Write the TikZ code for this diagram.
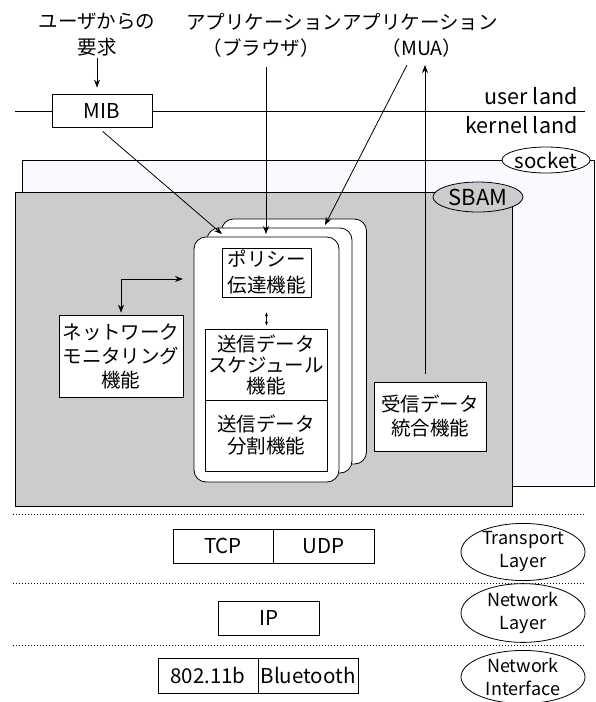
\documentclass[tikz,border=0pt]{standalone}
\usepackage{fontspec}
\setmainfont{Noto Sans CJK JP}
\usetikzlibrary{arrows.meta,shapes.geometric,calc}
\definecolor{sockfill}{RGB}{248,250,255}
\definecolor{sbamgray}{RGB}{204,204,204}
\begin{document}
\begin{tikzpicture}[x=1pt,y=-1pt,
  line width=0.8pt,
  every node/.style={inner sep=0pt, font=\fontsize{19.5}{24}\selectfont},
  box/.style={draw, fill=white, rectangle, align=center},
  lat/.style={font=\fontsize{20.5}{24}\selectfont},
  card/.style={draw, fill=white, rounded corners=12pt, minimum width=145pt, minimum height=245pt},
  lbl/.style={align=center},
  arr/.style={-{Stealth[length=8pt,width=6pt]}},
  darr/.style={{Stealth[length=8pt,width=6pt]}-{Stealth[length=8pt,width=6pt]}},
  sarr/.style={{Stealth[length=4pt,width=3pt]}-{Stealth[length=4pt,width=3pt]}, line width=0.6pt},
  dots/.style={dash pattern=on 1pt off 2pt},
  lay/.style={draw, ellipse, fill=white, minimum width=124pt, minimum height=50pt, align=center, font=\fontsize{18}{23}\selectfont}
]
\useasboundingbox (0,0) rectangle (595,702);

% socket and SBAM areas
\draw[fill=sockfill] (22,160) rectangle (594,486);
\node[draw, ellipse, fill=white, minimum width=86pt, minimum height=26pt, font=\fontsize{20.5}{24}\selectfont] (sock) at (546,160) {socket};
\draw[fill=sbamgray] (15,192) rectangle (512,506);
\node[draw, ellipse, fill=sbamgray, minimum width=90pt, minimum height=30pt, font=\fontsize{22}{24}\selectfont] (sbam) at (478,197) {SBAM};

% stacked cards
\node[card] (cardC) at (294,341.5) {};
\node[card] (cardB) at (279.5,350.5) {};
\node[card] (cardA) at (266.5,359.5) {};

% inner boxes
\node[box, minimum width=89pt, minimum height=49pt, font=\fontsize{19.5}{26}\selectfont] (pol) at (266.5,272.5) {ポリシー\\伝達機能};
\node[box, minimum width=122pt, minimum height=71pt, font=\fontsize{19.5}{21}\selectfont] (sch) at (266,364.5) {送信データ\\スケジュール\\機能};
\node[box, minimum width=122pt, minimum height=71pt, font=\fontsize{19.5}{22}\selectfont] (spl) at (266,435.5) {送信データ\\分割機能};

\node[box, minimum width=124pt, minimum height=82pt] (mon) at (121,356) {ネットワーク\\モニタリング\\機能};
\node[box, minimum width=112pt, minimum height=69pt] (recv) at (430,416.5) {受信データ\\統合機能};

% user / kernel boundary
\draw (15,111) -- (585,111);
\node[box, lat, minimum width=100pt, minimum height=33pt] (mib) at (102,110.5) {MIB};
\node[anchor=east, font=\fontsize{21.5}{24}\selectfont] (ul) at (578,96) {user land};
\node[anchor=east, font=\fontsize{21.5}{24}\selectfont] (kl) at (578,125) {kernel land};

% top labels
\node[lbl, font=\fontsize{19.5}{26}\selectfont] (req) at (97,35) {ユーザからの\\要求};
\node (app) at (342,22) {アプリケーションアプリケーション};
\node (brow) at (261,48) {（ブラウザ）};
\node (mua) at (422,48) {（MUA）};

% arrow coordinates
\coordinate (mibTip) at (222,234);
\coordinate (browTop) at (266,67);
\coordinate (browTip) at (266,234);
\coordinate (muaTop) at (407,65);
\coordinate (muaTip) at (325,225);
\coordinate (upTip) at (425,65);
\coordinate (upBot) at (425,374);
\coordinate (monR) at (183,279);

\draw[arr, shorten <=1pt, shorten >=6pt] (req.south) -- (req.south |- mib.north);
\draw[arr, shorten <=6pt] ([xshift=-4pt]mib.south) -- (mibTip);
\draw[arr] (browTop) -- (browTip);
\draw[arr] (muaTop) -- (muaTip);
\draw[arr] (upBot) -- (upTip);
\draw[darr, shorten >=2pt] (monR) -| (mon.north);
\draw[sarr, shorten <=15pt, shorten >=3pt] (pol.south) -- (pol.south |- sch.north);

% layer separators
\coordinate (d1l) at (13,514); \coordinate (d1r) at (585,514);
\coordinate (d2l) at (13,583); \coordinate (d2r) at (585,583);
\coordinate (d3l) at (13,645); \coordinate (d3r) at (585,645);
\draw[dots] (d1l) -- (d1r);
\draw[dots] (d2l) -- (d2r);
\draw[dots] (d3l) -- (d3r);

% protocol boxes
\node[box, lat, minimum width=100pt, minimum height=34pt] (tcp) at (223,546) {TCP};
\node[box, lat, minimum width=101pt, minimum height=34pt] (udp) at (323.5,546) {UDP};
\node[box, lat, minimum width=101pt, minimum height=34pt] (ip) at (268.5,618) {IP};
\node[box, lat, minimum width=100pt, minimum height=35pt] (wifi) at (208,675.5) {802.11b};
\node[box, lat, minimum width=100pt, minimum height=35pt] (bt) at (308,675.5) {Bluetooth};

% layer ellipses
\node[lay] (tl) at (523,552) {Transport\\Layer};
\node[lay] (nl) at (523,613) {Network\\Layer};
\node[lay] (ni) at (523,677) {Network\\Interface};
\end{tikzpicture}
\end{document}
